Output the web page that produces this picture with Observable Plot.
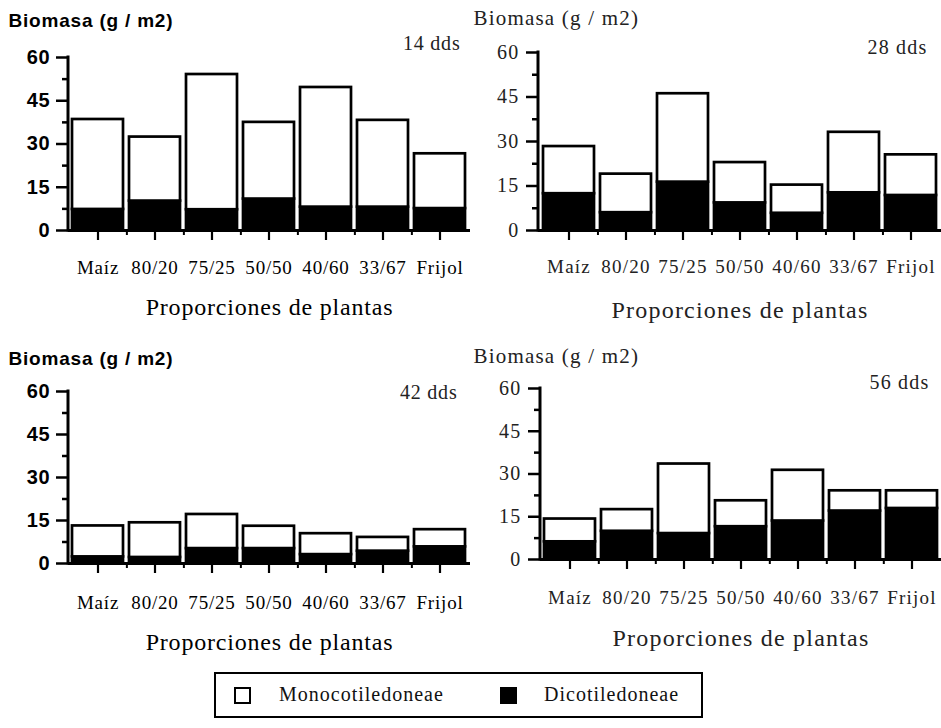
<!DOCTYPE html>
<html><head><meta charset="utf-8">
<script src="https://cdn.jsdelivr.net/npm/d3@7"></script>
<script src="https://cdn.jsdelivr.net/npm/@observablehq/plot@0.6"></script>
<style>
body{margin:0;background:#fff;}
#wrap{position:relative;width:941px;height:728px;overflow:hidden;background:#fff;}
.panel{position:absolute;}
.panel text{letter-spacing:0.8px;}
.panel.serifpanel text{letter-spacing:1.2px;}
#legend{position:absolute;left:214px;top:672px;width:489px;height:46px;border:2px solid #000;box-sizing:border-box;font-family:"Liberation Serif",serif;font-size:20px;color:#111;}
#legend .sw{position:absolute;top:13px;width:17px;height:17px;box-sizing:border-box;border:2.5px solid #000;}
#legend .lb{position:absolute;top:9px;letter-spacing:1px;}
</style></head>
<body><div id="wrap"></div>
<script>
// ---- data ----
const proporciones = ["Maíz","80/20","75/25","50/50","40/60","33/67","Frijol"];
const especies = ["Dicotiledoneae","Monocotiledoneae"];
const etiquetasDds = ["14 dds","28 dds","42 dds","56 dds"];
// total biomass (top of bar) and dicot part (black), g/m2
const total14 = [38.5, 32.4, 54.1, 37.5, 49.6, 38.2, 26.6];
const dicot14 = [7.3, 10.2, 7.2, 10.9, 8.1, 8.1, 7.6];
const total28 = [28.3, 19.0, 46.1, 22.9, 15.3, 33.1, 25.5];
const dicot28 = [12.4, 6.0, 16.3, 9.3, 5.8, 12.7, 11.8];
const total42 = [13.1, 14.2, 17.1, 13.0, 10.4, 9.1, 11.8];
const dicot42 = [2.3, 2.1, 5.2, 5.2, 3.1, 4.3, 5.8];
const total56 = [14.2, 17.5, 33.5, 20.6, 31.3, 24.1, 24.1];
const dicot56 = [6.2, 9.9, 9.1, 11.5, 13.5, 17.0, 17.9];
const yTicks = [0, 15, 30, 45, 60];
const yMinorTicks = [7.5, 22.5, 37.5, 52.5];
const tituloY = "Biomasa (g / m2)";
const tituloX = "Proporciones de plantas";

const totals = [total14, total28, total42, total56];
const dicots = [dicot14, dicot28, dicot42, dicot56];

// ---- layout ----
const layouts = [
  {left:0,   top:0,   width:472, height:325, mL:68, mR:2, mT:57, mB:95,  bold:true,  tDx:-60, tDy:-37, dDx:-10, dDy:-14, tickPad:20, pDy:77, yPad:6},
  {left:470, top:0,   width:471, height:325, mL:68, mR:0, mT:52, mB:95,  bold:false, tDx:-65, tDy:-34, dDx:-14, dDy:-5,  tickPad:19, pDy:80, yPad:7},
  {left:0,   top:330, width:472, height:330, mL:68, mR:2, mT:61, mB:97,  bold:true,  tDx:-60, tDy:-33, dDx:-13, dDy:1,   tickPad:22, pDy:79, yPad:6},
  {left:470, top:330, width:471, height:330, mL:70, mR:0, mT:58, mB:101, bold:false, tDx:-67, tDy:-32, dDx:-12, dDy:-6,  tickPad:21, pDy:79, yPad:7}
];

const pi = 0.10, po = 0.03;

function rows(total, dicot) {
  return proporciones.flatMap((p, i) => [
    {prop: p, especie: especies[0], value: dicot[i]},
    {prop: p, especie: especies[1], value: total[i] - dicot[i]}
  ]);
}

function yAxisLine() {
  return (index, scales, values, dims) => {
    const x = dims.marginLeft;
    return d3.create("svg:line")
      .attr("x1", x).attr("x2", x)
      .attr("y1", scales.y(yTicks[0])).attr("y2", scales.y(yTicks[yTicks.length - 1]))
      .attr("stroke", "black").attr("stroke-width", 3).attr("stroke-linecap", "square")
      .node();
  };
}

const wrap = document.getElementById("wrap");

layouts.forEach((L, k) => {
  const data = rows(totals[k], dicots[k]);
  const inner = L.width - L.mL - L.mR;
  const step = inner / (proporciones.length - pi + 2 * po);
  const sansBold = L.bold;
  const ink = sansBold ? "black" : "#222";
  const yFont = sansBold ? {fontFamily: "Liberation Sans, sans-serif", fontWeight: "bold", fontSize: 20}
                         : {fontFamily: "Liberation Serif, serif", fontWeight: "normal", fontSize: 20};
  const titleFont = sansBold ? {fontFamily: "Liberation Sans, sans-serif", fontWeight: "bold", fontSize: 19}
                             : {fontFamily: "Liberation Serif, serif", fontWeight: "normal", fontSize: 21};
  const chart = Plot.plot({
    width: L.width, height: L.height,
    marginLeft: L.mL, marginRight: L.mR, marginTop: L.mT, marginBottom: L.mB,
    style: {fontFamily: "Liberation Serif, serif", fontSize: "18px", color: "black", background: "white", overflow: "visible"},
    x: {domain: proporciones, paddingInner: pi, paddingOuter: po},
    y: {domain: [0, 60]},
    color: {domain: especies, range: ["black", "white"]},
    marks: [
      Plot.barY(data, {x: "prop", y: "value", fill: "especie", stroke: "black", strokeWidth: 2.7}),
      Plot.ruleY([0], {strokeWidth: 3}),
      yAxisLine(),
      Plot.axisY({ticks: yTicks, tickSize: 12, tickPadding: L.yPad, strokeWidth: 2.5, label: null, ...yFont, fill: ink}),
      Plot.axisY({ticks: yMinorTicks, tickSize: 6, strokeWidth: 2.5, label: null, tickFormat: () => ""}),
      Plot.axisX({tickSize: 10, tickPadding: L.tickPad, strokeWidth: 2.2, label: null, fontSize: 19, fill: ink}),
      Plot.axisX({ticks: proporciones.slice(0, -1), tickSize: 5, strokeWidth: 2, label: null, tickFormat: () => "", dx: step / 2}),
      Plot.text([tituloY], {frameAnchor: "top-left", textAnchor: "start", lineAnchor: "middle", dx: L.tDx, dy: L.tDy, ...titleFont, fill: ink}),
      Plot.text([etiquetasDds[k]], {frameAnchor: "top-right", textAnchor: "end", lineAnchor: "middle", dx: L.dDx, dy: L.dDy, fontSize: 20, fill: "#222"}),
      Plot.text([tituloX], {frameAnchor: "bottom", lineAnchor: "middle", dy: L.pDy, fontSize: 24, fill: ink})
    ]
  });
  chart.classList.add("panel");
  if (!sansBold) chart.classList.add("serifpanel");
  chart.style.left = L.left + "px";
  chart.style.top = L.top + "px";
  wrap.appendChild(chart);
});

// legend
const legend = document.createElement("div");
legend.id = "legend";
const swLeft = [18, 284], lbLeft = [63, 328];
especies.slice().reverse().forEach((e, i) => {
  const sw = document.createElement("div");
  sw.className = "sw";
  sw.style.left = swLeft[i] + "px";
  sw.style.background = e === especies[0] ? "#000" : "#fff";
  legend.appendChild(sw);
  const lb = document.createElement("div");
  lb.className = "lb";
  lb.style.left = lbLeft[i] + "px";
  lb.textContent = e;
  legend.appendChild(lb);
});
wrap.appendChild(legend);
</script>
</body></html>
